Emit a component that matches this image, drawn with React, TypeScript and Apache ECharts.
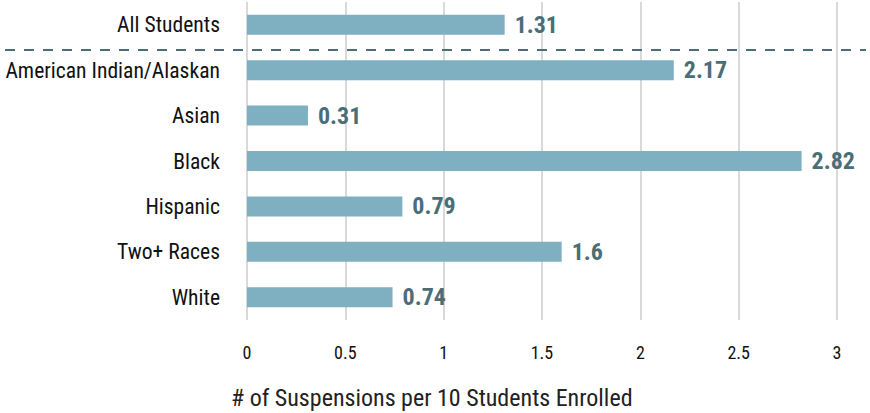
import React, { useEffect, useRef } from "react";
import * as echarts from "echarts";

const categories = [
  "All Students",
  "American Indian/Alaskan",
  "Asian",
  "Black",
  "Hispanic",
  "Two+ Races",
  "White",
];
const values = [1.31, 2.17, 0.31, 2.82, 0.79, 1.6, 0.74];
const axisTitle = "# of Suspensions per 10 Students Enrolled";

const FONT = '"Roboto Condensed", "Liberation Sans Narrow", "Arial Narrow", Roboto, sans-serif';

export default function App() {
  const ref = useRef<HTMLDivElement>(null);
  useEffect(() => {
    if (!ref.current) return;
    const chart = echarts.init(ref.current, undefined, { renderer: "svg" });
    chart.setOption({
      animation: false,
      textStyle: { fontFamily: FONT },
      title: {
        text: axisTitle,
        left: 226,
        top: 381,
        textStyle: { fontFamily: FONT, fontSize: 24, fontWeight: "normal", color: "#222" },
      },
      grid: { left: 247, right: 33, top: 2, bottom: 93, containLabel: false },
      xAxis: {
        type: "value",
        min: 0,
        max: 3,
        interval: 0.5,
        axisLine: { show: false },
        axisTick: { show: false },
        splitLine: { lineStyle: { color: "#d9d9d9", width: 2 } },
        axisLabel: { margin: 23, fontSize: 18, color: "#111", fontFamily: FONT },
      },
      yAxis: {
        type: "category",
        data: categories,
        inverse: true,
        axisLine: { show: false },
        axisTick: { show: false },
        axisLabel: { margin: 27, fontSize: 21.6, color: "#111", fontFamily: FONT },
      },
      series: [
        {
          type: "bar",
          data: values,
          barWidth: 20,
          itemStyle: { color: "#7fb0c2" },
          label: {
            show: true,
            position: "right",
            distance: 10,
            fontSize: 24,
            fontWeight: "bold",
            color: "#4a6e78",
            fontFamily: FONT,
          },
        },
      ],
      graphic: [
        {
          type: "line",
          shape: { x1: 5, y1: 50, x2: 866, y2: 50 },
          style: { stroke: "#4a6e78", lineWidth: 2, lineDash: [10, 9] },
          z: 10,
        },
      ],
    });
    return () => chart.dispose();
  }, []);
  return (
    <div
      ref={ref}
      style={{ position: "absolute", left: 0, top: 0, width: 870, height: 413 }}
    />
  );
}
